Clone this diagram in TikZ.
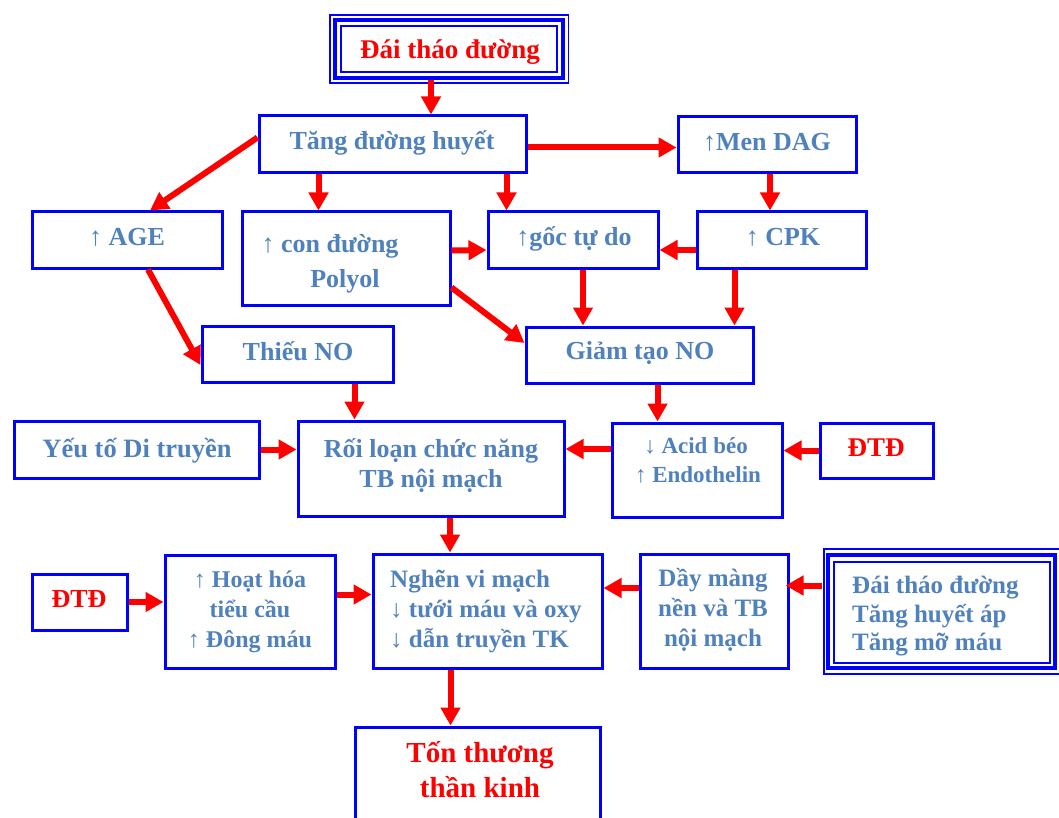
\documentclass[tikz,border=0pt]{standalone}
\usepackage{fontspec}
\setmainfont{Liberation Serif}
\usetikzlibrary{arrows.meta}
\definecolor{tblue}{HTML}{4F81BD}
\definecolor{bblue}{HTML}{0000FF}
\definecolor{ared}{HTML}{FF0000}
\begin{document}
\begin{tikzpicture}[x=1pt,y=-1pt,
  box/.style={draw=bblue, line width=3pt, fill=white, inner sep=0pt},
  arr/.style={draw=ared, line width=6pt, -{Triangle[length=18pt,width=19pt]}},
  lbl/.style={text=tblue, font=\bfseries\fontsize{26}{30}\selectfont, inner sep=0pt, anchor=base},
  lbls/.style={lbl, font=\bfseries\fontsize{24}{28}\selectfont},
  lblm/.style={lbl, font=\bfseries\fontsize{25}{29}\selectfont},
  rlbl/.style={lbl, text=ared, font=\bfseries\fontsize{27}{30}\selectfont},
  thinb/.style={draw=bblue, line width=1.5pt}
]
\useasboundingbox[fill=white] (0,0) rectangle (1059,818);

% boxes
\draw[thinb] (330,15) rectangle (568.5,83);
\node[box, line width=4pt, minimum width=228pt, minimum height=58pt] (top) at (449,49) {};
\draw[thinb] (341,26) rectangle (557,72);

\node[box, minimum width=267pt, minimum height=57pt] (tang) at (392.5,144.5) {};
\node[box, minimum width=178pt, minimum height=56pt] (men) at (767,145) {};
\node[box, minimum width=190pt, minimum height=56pt] (age) at (127,240) {};
\node[box, minimum width=208pt, minimum height=93pt] (polyol) at (346,258.5) {};
\node[box, minimum width=170pt, minimum height=56pt] (goc) at (573,240) {};
\node[box, minimum width=169pt, minimum height=56pt] (cpk) at (781.5,240) {};
\node[box, minimum width=191pt, minimum height=56pt] (thieu) at (297.5,354) {};
\node[box, minimum width=227pt, minimum height=56pt] (giam) at (639.5,355) {};
\node[box, minimum width=245pt, minimum height=57pt] (yeu) at (136.5,449.5) {};
\node[box, minimum width=266pt, minimum height=95pt] (roi) at (431,468.5) {};
\node[box, minimum width=170pt, minimum height=94pt] (acid) at (697,470) {};
\node[box, minimum width=113pt, minimum height=55pt] (dtdr) at (876.5,450.5) {};
\node[box, minimum width=95pt, minimum height=56pt] (dtdl) at (79.5,602) {};
\node[box, minimum width=170pt, minimum height=113pt] (hoat) at (250,611.5) {};
\node[box, minimum width=229pt, minimum height=114pt] (nghen) at (487.5,611) {};
\node[box, minimum width=148pt, minimum height=114pt] (day) at (714,611) {};
\draw[thinb] (824,549) rectangle (1062,674);
\node[box, line width=4pt, minimum width=227pt, minimum height=113pt] (tri) at (941.5,611.5) {};
\draw[thinb] (834,562) rectangle (1050,663);
\node[box, minimum width=245pt, minimum height=103pt] (ton) at (477.5,778.5) {};

% labels
\node[rlbl] (ttop) at (450,59) {Đái tháo đường};
\node[lbl] (ttang) at (392,150) {Tăng đường huyết};
\node[lbl] (tmen) at (767,151) {↑Men DAG};
\node[lbl] (tage) at (127,245) {↑ AGE};
\node[lbl] (tpol1) at (330,252) {↑ con đường};
\node[lbl] (tpol2) at (345,287) {Polyol};
\node[lbl] (tgoc) at (574,245) {↑gốc tự do};
\node[lbl] (tcpk) at (783,245) {↑ CPK};
\node[lbl] (tthieu) at (298,360) {Thiếu NO};
\node[lbl] (tgiam) at (640,359) {Giảm tạo NO};
\node[lbl, font=\bfseries\fontsize{26.5}{30}\selectfont] (tyeu) at (137,457) {Yếu tố Di truyền};
\node[lbl] (troi1) at (431,457) {Rối loạn chức năng};
\node[lbl] (troi2) at (431,487) {TB nội mạch};
\node[lbl, font=\bfseries\fontsize{23}{27}\selectfont] (tacid1) at (696,453) {↓ Acid béo};
\node[lbl, font=\bfseries\fontsize{23}{27}\selectfont] (tacid2) at (698,482) {↑ Endothelin};
\node[rlbl] (tdtdr) at (876,456) {ĐTĐ};
\node[rlbl, font=\bfseries\fontsize{26}{30}\selectfont] (tdtdl) at (79,607) {ĐTĐ};
\node[lbls] (thoat1) at (250,587) {↑ Hoạt hóa};
\node[lbls] (thoat2) at (250,617) {tiểu cầu};
\node[lbls] (thoat3) at (250,647) {↑ Đông máu};
\node[lblm, anchor=base west] (tng1) at (390,587) {Nghẽn vi mạch};
\node[lblm, anchor=base west] (tng2) at (390,617) {↓ tưới máu và oxy};
\node[lblm, anchor=base west] (tng3) at (390,647) {↓ dẫn truyền TK};
\node[lblm] (tday1) at (713,586) {Dầy màng};
\node[lblm] (tday2) at (713,616) {nền và TB};
\node[lblm] (tday3) at (713,646) {nội mạch};
\node[lblm, anchor=base west] (ttri1) at (852,593) {Đái tháo đường};
\node[lblm, anchor=base west] (ttri2) at (852,622) {Tăng huyết áp};
\node[lblm, anchor=base west] (ttri3) at (852,650) {Tăng mỡ máu};
\node[rlbl, font=\bfseries\fontsize{29}{34}\selectfont] (tton1) at (480,762) {Tốn thương};
\node[rlbl, font=\bfseries\fontsize{29}{34}\selectfont] (tton2) at (480,797) {thần kinh};

% connectors
\draw[arr] ([xshift=-18pt]top.south) -- ([xshift=-18pt]top.south |- tang.north);
\draw[arr] ([yshift=-3pt]tang.east) -- ([yshift=-3pt]tang.east -| men.west);
\draw[arr] ([yshift=7pt]tang.west) -- ([xshift=23pt]age.north);
\draw[arr] ([xshift=-74pt]tang.south) -- ([xshift=-74pt]tang.south |- polyol.north);
\draw[arr] ([xshift=114pt]tang.south) -- ([xshift=114pt]tang.south |- goc.north);
\draw[arr] ([xshift=3pt]men.south) -- ([xshift=3pt]men.south |- cpk.north);
\draw[arr] ([yshift=-10pt]cpk.west) -- ([yshift=-10pt]cpk.west -| goc.east);
\draw[arr] ([yshift=8pt]polyol.east) -- ([yshift=-10pt]goc.west);
\draw[arr] ([yshift=-29pt]polyol.east) -- ([yshift=12pt]giam.west);
\draw[arr] ([xshift=10pt]goc.south) -- ([xshift=10pt]goc.south |- giam.north);
\draw[arr] ([xshift=-47pt]cpk.south) -- ([xshift=-47pt]cpk.south |- giam.north);
\draw[arr] ([xshift=21pt]age.south) -- ([yshift=-11pt]thieu.west);
\draw[arr] ([xshift=57pt]thieu.south) -- ([xshift=57pt]thieu.south |- roi.north);
\draw[arr] ([xshift=18pt]giam.south) -- ([xshift=18pt]giam.south |- acid.north);
\draw[arr] (yeu.east) -- (yeu.east -| roi.west);
\draw[arr] ([yshift=21pt]acid.west) -- ([yshift=21pt]acid.west -| roi.east);
\draw[arr] (dtdr.west) -- (dtdr.west -| acid.east);
\draw[arr] ([xshift=19pt]roi.south) -- ([xshift=19pt]roi.south |- nghen.north);
\draw[arr] (dtdl.east) -- (dtdl.east -| hoat.west);
\draw[arr] ([yshift=17pt]hoat.east) -- ([yshift=17pt]hoat.east -| nghen.west);
\draw[arr] ([yshift=23pt]day.west) -- ([yshift=23pt]day.west -| nghen.east);
\draw[arr] ([shift={(-4pt,26pt)}]tri.west) -- ([shift={(-4pt,26pt)}]tri.west -| day.east);
\draw[arr] ([xshift=-37pt]nghen.south) -- ([xshift=-37pt]nghen.south |- ton.north);
\end{tikzpicture}
\end{document}
